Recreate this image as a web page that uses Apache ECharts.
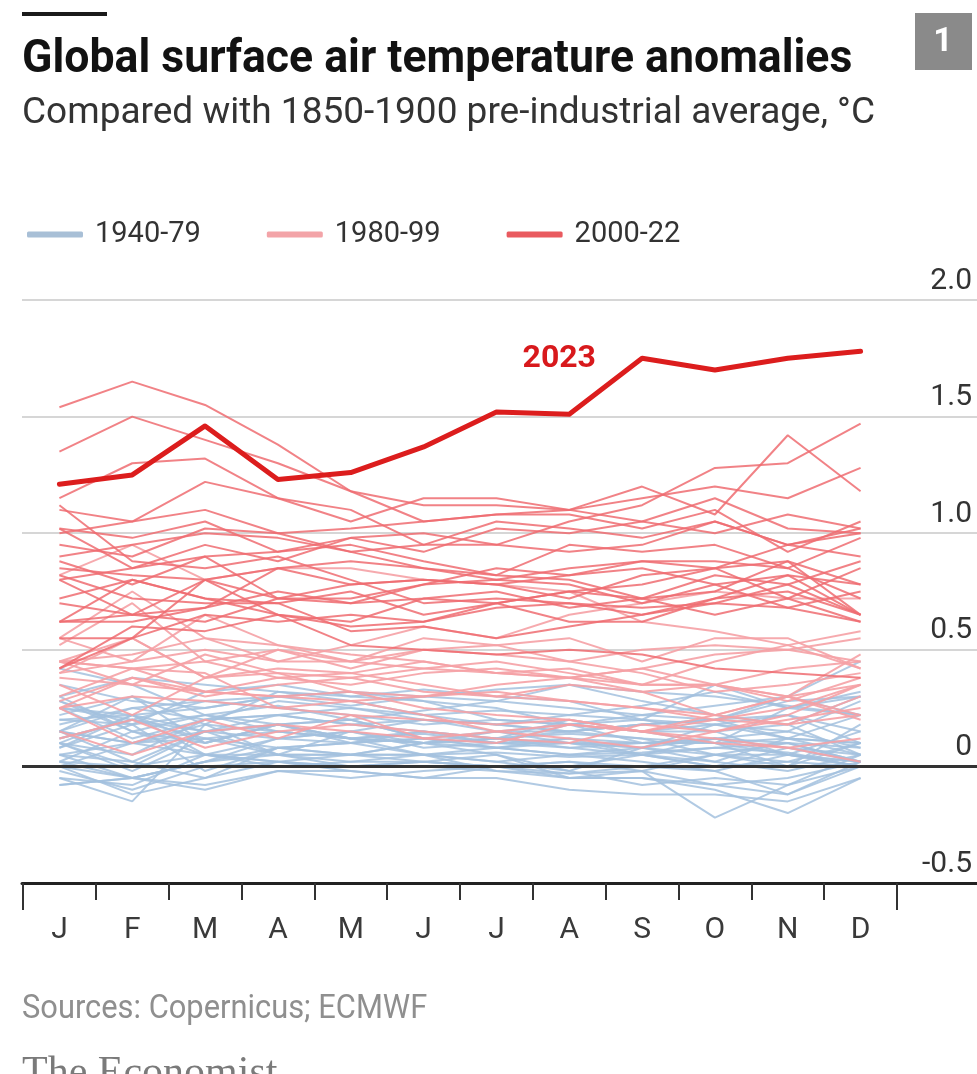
<!DOCTYPE html>
<html><head><meta charset="utf-8">
<script src="https://cdn.jsdelivr.net/npm/echarts@6/dist/echarts.min.js"></script>
<style>html,body{margin:0;padding:0;background:#fff}#c{width:977px;height:1074px}</style>
</head><body><div id="c"></div>
<script>
// ---------- DATA ----------
const months = ['Jan','Feb','Mar','Apr','May','Jun','Jul','Aug','Sep','Oct','Nov','Dec'];
const yTickValues = [-0.5, 0, 0.5, 1.0, 1.5, 2.0];
const legendNames = ['1940-79', '1980-99', '2000-22'];

// 1940-79, one row per year (°C vs 1850-1900)
const years1940_79 = [
  [0.08,0.22,0.25,0.30,0.26,0.30,0.28,0.25,0.22,0.26,0.30,0.22], // 1940
  [0.28,0.18,0.32,0.35,0.30,0.33,0.30,0.28,0.20,0.35,0.25,0.32], // 1941
  [0.25,0.12,0.20,0.28,0.25,0.22,0.18,0.15,0.18,0.20,0.22,0.15], // 1942
  [0.15,0.30,0.18,0.32,0.28,0.22,0.24,0.22,0.26,0.32,0.25,0.30], // 1943
  [0.35,0.28,0.25,0.30,0.32,0.30,0.33,0.35,0.32,0.30,0.26,0.22], // 1944
  [0.30,0.15,0.22,0.26,0.20,0.24,0.28,0.35,0.28,0.22,0.18,0.05], // 1945
  [0.20,0.22,0.15,0.18,0.10,0.05,0.08,0.05,0.06,0.08,0.10,0.02], // 1946
  [0.10,0.05,0.20,0.22,0.18,0.15,0.12,0.10,0.08,0.18,0.12,0.10], // 1947
  [0.28,0.15,0.10,0.18,0.20,0.12,0.08,0.10,0.10,0.12,0.08,0.02], // 1948
  [0.25,0.20,0.12,0.15,0.12,0.05,0.06,0.04,0.05,0.08,0.06,0.00], // 1949
  [-0.05,-0.08,0.05,0.02,0.05,0.02,0.00,-0.03,-0.02,-0.08,-0.12,0.02], // 1950
  [0.00,-0.05,0.02,0.12,0.15,0.10,0.12,0.15,0.18,0.20,0.12,0.22], // 1951
  [0.25,0.22,0.10,0.18,0.12,0.10,0.12,0.14,0.12,0.05,0.00,0.10], // 1952
  [0.18,0.25,0.28,0.25,0.22,0.18,0.20,0.18,0.15,0.15,0.05,0.15], // 1953
  [0.02,0.15,0.05,0.02,0.00,0.00,-0.02,-0.03,0.00,0.05,0.10,0.02], // 1954
  [0.15,0.02,-0.05,0.08,0.05,0.05,0.02,0.05,0.02,-0.02,-0.12,0.00], // 1955
  [-0.02,-0.10,0.00,0.02,0.00,0.02,0.05,-0.05,-0.05,-0.08,-0.05,0.02], // 1956
  [0.05,0.10,0.05,0.12,0.15,0.20,0.18,0.22,0.20,0.15,0.18,0.30], // 1957
  [0.42,0.35,0.22,0.18,0.20,0.12,0.15,0.10,0.08,0.12,0.15,0.08], // 1958
  [0.15,0.10,0.18,0.15,0.12,0.14,0.10,0.12,0.05,0.00,0.02,0.10], // 1959
  [0.08,0.18,-0.02,0.08,0.10,0.12,0.08,0.12,0.10,0.10,0.00,0.18], // 1960
  [0.15,0.25,0.20,0.22,0.18,0.20,0.15,0.15,0.12,0.10,0.12,0.05], // 1961
  [0.12,0.20,0.15,0.12,0.10,0.12,0.10,0.08,0.10,0.12,0.10,0.08], // 1962
  [0.10,0.22,0.05,0.05,0.05,0.10,0.15,0.18,0.20,0.18,0.22,0.10], // 1963
  [0.05,-0.05,-0.08,-0.02,-0.02,-0.05,-0.05,-0.10,-0.12,-0.12,-0.15,-0.05], // 1964
  [0.02,0.00,0.05,0.00,0.02,0.02,0.00,0.00,0.05,0.02,-0.02,0.05], // 1965
  [0.00,0.10,0.15,0.05,0.05,0.10,0.12,0.08,0.05,0.00,0.08,0.05], // 1966
  [0.10,-0.02,0.12,0.05,0.15,0.08,0.10,0.10,0.05,0.12,0.05,0.02], // 1967
  [-0.05,-0.15,0.18,0.05,0.00,0.02,0.00,0.02,-0.02,0.05,0.02,0.00], // 1968
  [0.05,0.02,0.15,0.22,0.25,0.20,0.18,0.15,0.18,0.20,0.28,0.30], // 1969
  [0.22,0.30,0.10,0.18,0.12,0.10,0.08,0.05,0.08,0.05,0.05,0.00], // 1970
  [0.00,-0.12,-0.05,0.02,-0.02,-0.05,0.00,0.02,0.00,-0.02,0.05,0.00], // 1971
  [-0.08,-0.05,0.02,0.08,0.10,0.15,0.12,0.20,0.15,0.18,0.15,0.28], // 1972
  [0.30,0.38,0.35,0.32,0.30,0.28,0.20,0.18,0.10,0.10,0.05,0.02], // 1973
  [-0.08,-0.05,0.02,0.05,0.02,0.05,0.02,-0.02,-0.08,-0.05,-0.08,0.00], // 1974
  [0.15,0.10,0.12,0.08,0.05,0.05,-0.02,-0.05,-0.05,-0.10,-0.20,-0.05], // 1975
  [0.02,-0.05,-0.10,-0.02,-0.05,-0.02,0.00,-0.05,-0.02,-0.22,-0.08,0.05], // 1976
  [0.12,0.20,0.28,0.30,0.32,0.28,0.25,0.18,0.15,0.10,0.25,0.22], // 1977
  [0.20,0.18,0.22,0.15,0.12,0.10,0.05,-0.02,0.08,0.02,0.12,0.10], // 1978
  [0.10,0.00,0.15,0.18,0.12,0.15,0.10,0.18,0.22,0.20,0.30,0.45]  // 1979
];

// 1980-99
const years1980_99 = [
  [0.28,0.38,0.30,0.35,0.38,0.32,0.30,0.28,0.25,0.22,0.30,0.22], // 1980
  [0.45,0.35,0.48,0.40,0.32,0.30,0.32,0.28,0.25,0.20,0.25,0.35], // 1981
  [0.12,0.20,0.08,0.15,0.18,0.15,0.12,0.10,0.18,0.15,0.22,0.35], // 1982
  [0.45,0.42,0.45,0.38,0.40,0.35,0.30,0.35,0.32,0.22,0.30,0.20], // 1983
  [0.25,0.10,0.20,0.12,0.22,0.12,0.15,0.18,0.15,0.10,0.08,0.02], // 1984
  [0.15,0.05,0.15,0.18,0.15,0.12,0.10,0.18,0.15,0.12,0.08,0.12], // 1985
  [0.25,0.30,0.28,0.25,0.22,0.20,0.18,0.20,0.15,0.20,0.18,0.22], // 1986
  [0.30,0.42,0.32,0.38,0.35,0.40,0.42,0.38,0.42,0.35,0.30,0.48], // 1987
  [0.55,0.45,0.50,0.45,0.45,0.42,0.40,0.38,0.35,0.35,0.30,0.35], // 1988
  [0.25,0.38,0.32,0.30,0.28,0.30,0.35,0.38,0.32,0.35,0.28,0.38], // 1989
  [0.40,0.45,0.65,0.52,0.48,0.45,0.40,0.42,0.35,0.45,0.52,0.42], // 1990
  [0.45,0.55,0.38,0.50,0.42,0.50,0.48,0.45,0.40,0.32,0.35,0.40], // 1991
  [0.45,0.42,0.40,0.25,0.28,0.22,0.15,0.12,0.08,0.15,0.20,0.25], // 1992
  [0.38,0.35,0.32,0.30,0.32,0.25,0.22,0.20,0.15,0.22,0.18,0.30], // 1993
  [0.35,0.22,0.38,0.42,0.40,0.45,0.40,0.38,0.42,0.48,0.50,0.45], // 1994
  [0.55,0.75,0.55,0.52,0.45,0.55,0.52,0.55,0.45,0.55,0.55,0.42], // 1995
  [0.40,0.55,0.38,0.40,0.38,0.42,0.45,0.40,0.35,0.35,0.42,0.45], // 1996
  [0.45,0.48,0.55,0.45,0.52,0.60,0.55,0.65,0.70,0.75,0.72,0.72], // 1997
  [0.82,0.95,0.80,0.85,0.85,0.80,0.78,0.75,0.62,0.58,0.52,0.58], // 1998
  [0.52,0.70,0.45,0.50,0.45,0.50,0.52,0.45,0.50,0.52,0.50,0.55]  // 1999
];

// 2000-22
const years2000_22 = [
  [0.42,0.60,0.58,0.65,0.52,0.50,0.48,0.50,0.48,0.42,0.40,0.38], // 2000
  [0.55,0.55,0.65,0.62,0.65,0.62,0.68,0.70,0.65,0.70,0.78,0.65], // 2001
  [0.80,0.85,0.90,0.72,0.70,0.72,0.75,0.68,0.72,0.65,0.72,0.62], // 2002
  [0.82,0.72,0.70,0.70,0.75,0.65,0.70,0.75,0.78,0.85,0.72,0.85], // 2003
  [0.72,0.80,0.72,0.70,0.58,0.60,0.55,0.60,0.65,0.72,0.82,0.65], // 2004
  [0.80,0.65,0.80,0.85,0.78,0.80,0.78,0.72,0.82,0.85,0.88,0.78], // 2005
  [0.62,0.80,0.72,0.65,0.62,0.72,0.70,0.75,0.72,0.82,0.78,0.88], // 2006
  [1.12,0.88,0.85,0.90,0.80,0.70,0.72,0.70,0.68,0.70,0.68,0.62], // 2007
  [0.42,0.55,0.80,0.65,0.60,0.62,0.70,0.62,0.62,0.72,0.75,0.65], // 2008
  [0.70,0.65,0.62,0.72,0.72,0.78,0.85,0.82,0.85,0.78,0.82,0.78], // 2009
  [0.90,0.95,1.00,0.98,0.92,0.85,0.82,0.80,0.72,0.75,0.88,0.65], // 2010
  [0.62,0.62,0.68,0.75,0.70,0.78,0.80,0.78,0.70,0.78,0.68,0.75], // 2011
  [0.62,0.65,0.68,0.85,0.88,0.85,0.80,0.85,0.88,0.88,0.85,0.72], // 2012
  [0.85,0.82,0.80,0.72,0.78,0.80,0.78,0.82,0.88,0.85,0.95,0.90], // 2013
  [0.88,0.78,0.90,0.92,0.95,0.88,0.82,0.95,0.92,0.95,0.85,0.98], // 2014
  [1.02,0.98,1.05,0.92,0.98,1.00,0.95,1.05,1.12,1.28,1.30,1.47], // 2015
  [1.54,1.65,1.55,1.38,1.18,1.05,1.08,1.10,1.05,1.00,1.08,1.02], // 2016
  [1.15,1.30,1.32,1.15,1.10,0.95,1.05,1.02,0.98,1.05,0.95,1.00], // 2017
  [0.95,0.90,1.02,1.00,0.92,0.95,0.95,0.92,0.95,1.05,0.95,1.02], // 2018
  [1.00,1.05,1.22,1.15,1.05,1.15,1.15,1.10,1.15,1.20,1.15,1.28], // 2019
  [1.35,1.50,1.40,1.30,1.18,1.12,1.12,1.10,1.20,1.08,1.42,1.18], // 2020
  [1.02,0.85,0.95,0.88,0.98,0.92,1.02,1.00,1.05,1.15,1.02,1.00], // 2021
  [1.10,1.05,1.10,1.00,1.02,1.05,1.08,1.08,1.02,1.10,0.92,1.05]  // 2022
];

const year2023 = [1.21,1.25,1.46,1.23,1.26,1.37,1.52,1.51,1.75,1.70,1.75,1.78];
const label2023 = {text: '2023', monthIndex: 7};

// ---------- STYLE ----------
const FONT = 'Roboto, "Noto Sans", sans-serif';
const groupStyles = {
  '1940-79': {color: '#a3c1de', opacity: 0.85, width: 2, legend: '#a8bfd6'},
  '1980-99': {color: '#f5a1a5', opacity: 0.9, width: 2, legend: '#f3a4a8'},
  '2000-22': {color: '#ef6c71', opacity: 0.85, width: 2, legend: '#e95a5f'}
};

const series = [];
// zero reference line (drawn under the data lines)
series.push({
  type: 'line', xAxisIndex: 0, yAxisIndex: 0, data: [], z: 1, silent: true,
  markLine: {
    silent: true, symbol: ['none', 'none'], label: {show: false},
    lineStyle: {color: '#333', width: 3, type: 'solid'},
    data: [{yAxis: 0}]
  }
});
function addGroup(name, rows) {
  const st = groupStyles[name];
  rows.forEach(function (row) {
    series.push({
      name: name, type: 'line', xAxisIndex: 1, yAxisIndex: 1, data: row,
      showSymbol: false, symbol: 'none', silent: true, z: 2,
      itemStyle: {color: st.color},
      lineStyle: {color: st.color, width: st.width, opacity: st.opacity}
    });
  });
}
addGroup('1940-79', years1940_79);
addGroup('1980-99', years1980_99);
addGroup('2000-22', years2000_22);
series.push({
  name: '2023', type: 'line', xAxisIndex: 1, yAxisIndex: 1, z: 3, silent: true,
  showSymbol: false, symbol: 'none',
  itemStyle: {color: '#dc1d1d'},
  lineStyle: {color: '#dc1d1d', width: 5, cap: 'round', join: 'round'},
  data: year2023,
  markPoint: {
    silent: true, symbol: 'circle', symbolSize: 0,
    data: [{coord: [label2023.monthIndex, year2023[label2023.monthIndex]]}],
    label: {show: true, formatter: label2023.text, position: 'top', distance: 0,
      offset: [-10, -39], color: '#d8191c', fontSize: 32, fontWeight: 'bold', fontFamily: FONT}
  }
});

const chart = echarts.init(document.getElementById('c'), null, {renderer: 'canvas'});
chart.setOption({
  animation: false,
  backgroundColor: '#ffffff',
  grid: [
    {left: 22, right: 0, top: 300, bottom: 191},
    {left: 23, right: 80, top: 300, bottom: 191}
  ],
  legend: {
    left: 22, top: 215, itemWidth: 56, itemHeight: 6, itemGap: 66, selectedMode: false,
    textStyle: {fontSize: 29, color: '#333', fontFamily: FONT, padding: [0, 0, 0, 7]},
    data: legendNames.map(function (n) {
      return {name: n, icon: 'roundRect', itemStyle: {color: groupStyles[n].legend, opacity: 1}};
    })
  },
  xAxis: [
    {gridIndex: 0, type: 'value', min: 0, max: 1, position: 'bottom',
      axisLine: {show: true, onZero: false, lineStyle: {color: '#222', width: 3}},
      axisTick: {show: false}, axisLabel: {show: false}, splitLine: {show: false}},
    {gridIndex: 1, type: 'category', data: months, boundaryGap: true, position: 'bottom',
      axisLine: {show: false, onZero: false},
      axisTick: {show: true, length: 17, lineStyle: {color: '#333', width: 2}},
      axisLabel: {show: true, margin: 32, fontSize: 30, color: '#3a3a3a', fontFamily: FONT,
        formatter: function (v) { return v.charAt(0); }},
      splitLine: {show: false}},
    {gridIndex: 1, type: 'value', min: 0, max: 12, interval: 12, position: 'bottom',
      axisLine: {show: false, onZero: false},
      axisTick: {show: true, length: 27, lineStyle: {color: '#333', width: 2}},
      axisLabel: {show: false}, splitLine: {show: false}}
  ],
  yAxis: [
    {gridIndex: 0, type: 'value', min: -0.5, max: 2, interval: 0.5, position: 'right',
      axisLine: {show: false}, axisTick: {show: false},
      splitLine: {show: true, lineStyle: {color: '#d6d6d6', width: 2}},
      axisLabel: {show: true, inside: true, margin: 5, fontSize: 30, color: '#333', fontFamily: FONT,
        verticalAlign: 'bottom', padding: [0, 0, 4, 0], showMinLabel: true, showMaxLabel: true,
        formatter: function (v) {
          const t = yTickValues.find(function (x) { return Math.abs(x - v) < 1e-9; });
          if (t === undefined) return '';
          return t === 0 ? '0' : t.toFixed(1);
        }}},
    {gridIndex: 1, type: 'value', min: -0.5, max: 2, interval: 0.5, show: false,
      splitLine: {show: false}}
  ],
  graphic: [
    {type: 'rect', shape: {x: 22, y: 12, width: 85, height: 4}, style: {fill: '#1a1a1a'}},
    {type: 'text', x: 22, y: 60, scaleX: 0.97,
      style: {text: 'Global surface air temperature anomalies', font: 'bold 46px ' + FONT,
        fill: '#121212', textAlign: 'left', textVerticalAlign: 'middle'}},
    {type: 'text', x: 22, y: 114, scaleX: 1.0,
      style: {text: 'Compared with 1850-1900 pre-industrial average, °C', font: '37px ' + FONT,
        fill: '#333', textAlign: 'left', textVerticalAlign: 'middle'}},
    {type: 'rect', shape: {x: 915, y: 13, width: 57, height: 57}, style: {fill: '#8a8a8a'}},
    {type: 'text', x: 943, y: 42,
      style: {text: '1', font: 'bold 34px ' + FONT, fill: '#ffffff', textAlign: 'center', textVerticalAlign: 'middle'}},
    {type: 'text', x: 22, y: 1010, scaleX: 0.935,
      style: {text: 'Sources: Copernicus; ECMWF', font: '33px ' + FONT, fill: '#8f8f8f',
        textAlign: 'left', textVerticalAlign: 'middle'}},
    {type: 'text', x: 22, y: 1074,
      style: {text: 'The Economist', font: '42px "Liberation Serif", serif', fill: '#7a7a7a',
        textAlign: 'left', textVerticalAlign: 'middle'}}
  ],
  series: series
});
</script></body></html>
